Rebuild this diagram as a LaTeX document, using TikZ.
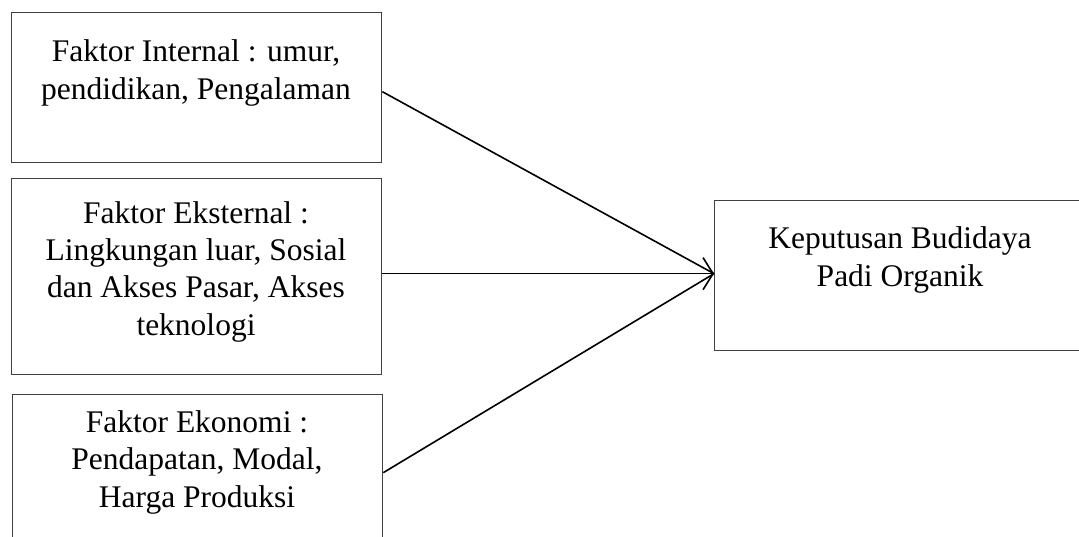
\documentclass[tikz,border=0pt]{standalone}
\usepackage{fontspec}
\setmainfont{Liberation Serif}
\usetikzlibrary{arrows.meta}
\begin{document}
\begin{tikzpicture}[x=1pt,y=-1pt,
  box/.style={draw=black!75, line width=1.3pt, rectangle, inner sep=0pt, anchor=north west},
  lbl/.style={align=center, anchor=base, inner sep=0pt, font=\fontsize{31.5}{37.2}\selectfont},
  link/.style={line width=1.6pt, black},
  headed/.style={link, -{Straight Barb[length=10pt,width=32pt,line width=1.6pt]}}]
\clip (0,0) rectangle (1079,536);
\node[box, minimum width=370pt, minimum height=150pt] (b1) at (11,12) {};
\node[box, minimum width=370pt, minimum height=196pt] (b2) at (11,178) {};
\node[box, minimum width=370pt, minimum height=156pt] (b3) at (12,394) {};
\node[box, minimum width=371pt, minimum height=150pt] (b4) at (714,200) {};
\node[lbl] (t1) at (196,99) {Faktor Internal : umur,\\pendidikan, Pengalaman};
\node[lbl] (t2) at (196,335) {Faktor Eksternal :\\Lingkungan luar, Sosial\\dan Akses Pasar, Akses\\teknologi};
\node[lbl] (t3) at (197,507) {Faktor Ekonomi :\\Pendapatan, Modal,\\Harga Produksi};
\node[lbl] (t4) at (900,286) {Keputusan Budidaya\\Padi Organik};
\coordinate (tip) at ([yshift=2pt]b4.west);
\draw[link] ([yshift=-4pt]b1.east) -- (tip);
\draw[headed] ([yshift=3pt]b2.east) -- (tip);
\draw[link] (b3.east) -- (tip);
\end{tikzpicture}
\end{document}
